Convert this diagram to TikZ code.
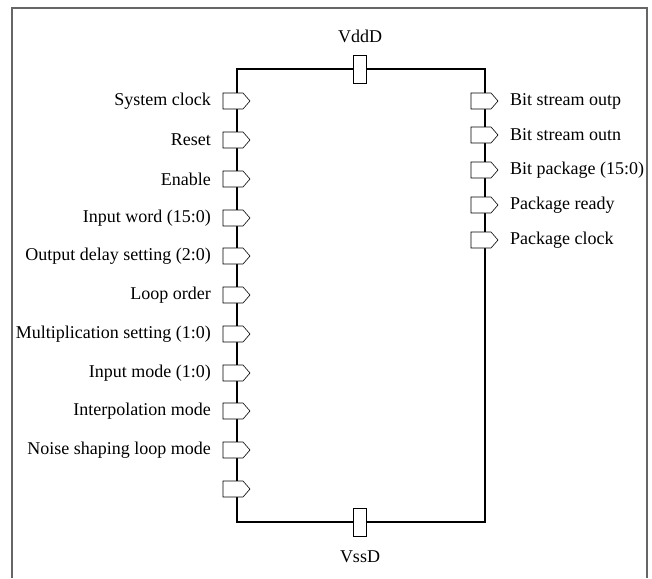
\documentclass[tikz,border=0pt]{standalone}
\usepackage{fontspec}
\setmainfont{Liberation Serif}
\begin{document}
\begin{tikzpicture}[x=1pt,y=-1pt,
  pin/.style={draw=black, fill=white, line width=0.6pt},
  lbl/.style={font=\fontsize{18}{20}\selectfont, inner sep=0pt},
  wire/.style={line width=1.2pt},
  pad/.style={draw=black, fill=white, line width=0.6pt, minimum width=13pt, minimum height=28pt, inner sep=0pt}]
\useasboundingbox (0,0) rectangle (652,578);
\draw[gray!80!black, line width=1.3pt] (12,578) -- (12,8) -- (647,8) -- (647,578);
% body
\coordinate (tl) at (237,69);
\coordinate (tr) at (485,69);
\coordinate (bl) at (237,522);
\coordinate (br) at (485,522);
\draw[wire] (tl) -- (tr) -- (br) -- (bl) -- cycle;
\node[pad] (vdd) at (360,69) {};
\node[pad] (vss) at (360,522) {};
\node[lbl] (vddl) at (360,36) {VddD};
\node[lbl] (vssl) at (360,557) {VssD};
\foreach \y/\t [count=\i] in {101/System clock,140/Reset,179/Enable,218/Input word (15:0),256/Output delay setting (2:0),295/Loop order,334/Multiplication setting (1:0),373/Input mode (1:0),411/Interpolation mode,450/Noise shaping loop mode,489/}{
  \draw[pin] (223,\y-8) -- (243,\y-8) -- (250,\y) -- (243,\y+8) -- (223,\y+8) -- cycle;
  \node[lbl, anchor=east] (l\i) at (211,\y) {\t};
}
\foreach \y/\t [count=\i] in {101/Bit stream outp,135/Bit stream outn,170/Bit package (15:0),205/Package ready,240/Package clock}{
  \draw[pin] (471,\y-8) -- (491,\y-8) -- (498,\y) -- (491,\y+8) -- (471,\y+8) -- cycle;
  \node[lbl, anchor=west] (r\i) at (510,\y) {\t};
}
\end{tikzpicture}
\end{document}
